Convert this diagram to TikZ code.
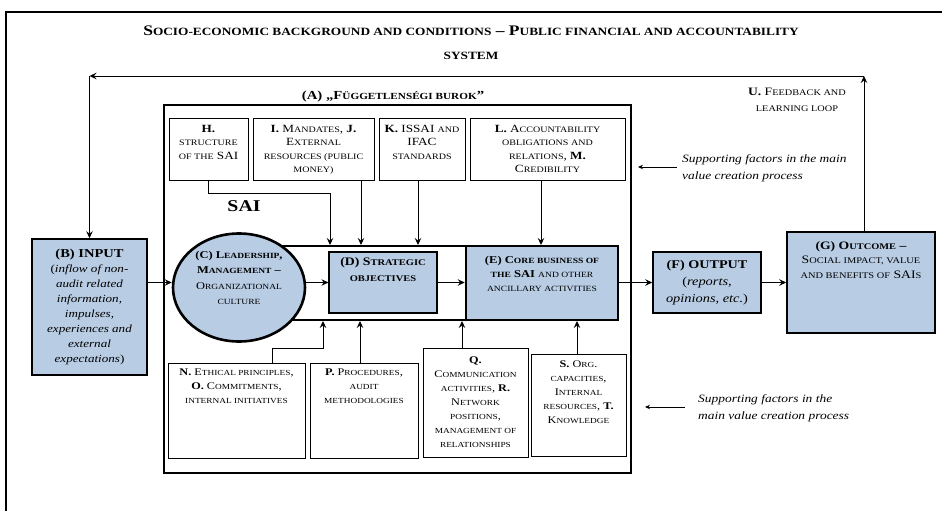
\documentclass[tikz,border=0pt]{standalone}
\usepackage{fontspec}
\setmainfont[FakeStretch=1.2]{Liberation Serif}
\usetikzlibrary{arrows.meta,shapes.geometric,calc}
\definecolor{boxblue}{RGB}{184,204,228}
\makeatletter
\newcommand\sct[1]{{\fontsize{\fpeval{0.76*\f@size}}{\f@baselineskip}\selectfont #1}}
\makeatother
\tikzset{
  arr/.style={line width=0.9pt,-{Stealth[length=7pt,width=6.5pt,inset=2.5pt]}},
  smallarr/.style={line width=0.9pt,-{Stealth[length=5pt,width=4.5pt]}},
  thinbox/.style={draw,line width=0.8pt,fill=white,inner sep=0pt},
  bluebox/.style={draw,line width=1.6pt,fill=boxblue,inner sep=0pt},
  txt/.style={inner sep=0pt,align=center},
  topfont/.style={font=\fontsize{11}{13.3}\selectfont},
  botfont/.style={font=\fontsize{10.2}{14}\selectfont},
  supfont/.style={font=\fontsize{11.2}{17}\selectfont\itshape},
}
\begin{document}
\begin{tikzpicture}[x=1pt,y=-1pt]
\useasboundingbox (0,0) rectangle (942,511);
% outer frame
\draw[line width=2pt] (6,515) -- (6,12) -- (946,12);
\node[txt,font=\fontsize{14.6}{24}\selectfont\bfseries] (title) at (471,43)
 {S\sct{OCIO-ECONOMIC BACKGROUND AND CONDITIONS} – P\sct{UBLIC FINANCIAL AND ACCOUNTABILITY}\\ \sct{SYSTEM}};
% frame A
\node[draw,line width=2.6pt,minimum width=467,minimum height=368,inner sep=0pt] (A) at (397.5,289) {};
\node[txt,font=\fontsize{12.3}{14}\selectfont\bfseries] (Alab) at (393,97) {(A) „F\sct{ÜGGETLENSÉGI BUROK}”};
\node[txt,font=\fontsize{16.5}{18}\selectfont\bfseries] (sai) at (244,206) {SAI};
% top boxes
\node[thinbox,minimum width=79,minimum height=62] (H) at (208.5,149) {};
\node[txt,topfont,anchor=north] (Ht) at (208.5,125) {\textbf{H.}\\ \sct{STRUCTURE}\\ \sct{OF THE} SAI};
\node[thinbox,minimum width=121,minimum height=62] (I) at (313.5,149) {};
\node[txt,topfont,anchor=north] (It) at (313.5,125) {\textbf{I.} M\sct{ANDATES}, \textbf{J.}\\ E\sct{XTERNAL}\\ \sct{RESOURCES (PUBLIC}\\ \sct{MONEY)}};
\node[thinbox,minimum width=86,minimum height=62] (K) at (422,149) {};
\node[txt,topfont,anchor=north] (Kt) at (422,125) {\textbf{K.} ISSAI \sct{AND}\\ IFAC\\ \sct{STANDARDS}};
\node[thinbox,minimum width=155,minimum height=62] (L) at (547.5,149) {};
\node[txt,topfont,anchor=north] (Lt) at (547.5,125) {\textbf{L.} A\sct{CCOUNTABILITY}\\ \sct{OBLIGATIONS AND}\\ \sct{RELATIONS}, \textbf{M.}\\ C\sct{REDIBILITY}};
% supporting factors (top)
\node[txt,supfont,align=left,anchor=west] (sup1) at (682,168) {Supporting factors in the main\\ value creation process};
\coordinate (sa1) at (677,167);
\coordinate (sb1) at (638,167);
\draw[smallarr] (sa1) -- (sb1);
% feedback text
\node[txt,font=\fontsize{11.3}{15.5}\selectfont] (U) at (797,100) {\textbf{U.} F\sct{EEDBACK AND}\\ \sct{LEARNING LOOP}};
% input
\node[bluebox,minimum width=115,minimum height=136,font=\fontsize{10.9}{15}\selectfont,align=center] (B) at (89.5,307)
 {{\fontsize{12.1}{15}\selectfont\bfseries (B) INPUT}\\ (\textit{inflow of non-}\\ \textit{audit related}\\ \textit{information,}\\ \textit{impulses,}\\ \textit{experiences and}\\ \textit{external}\\ \textit{expectations})};
% inner frame and core row
\node[draw,line width=2.6pt,minimum width=368,minimum height=74,inner sep=0pt] (inner) at (434,283) {};
\node[draw,line width=1.2pt,fill=boxblue,minimum width=108,minimum height=61,inner sep=0pt] (D) at (383,282.5) {};
\node[txt,font=\fontsize{11.5}{16.5}\selectfont\bfseries,anchor=north] (Dt) at (383,257) {(D) S\sct{TRATEGIC}\\ \sct{OBJECTIVES}};
\node[draw,line width=2.6pt,fill=boxblue,minimum width=152,minimum height=74,inner sep=0pt] (E) at (542,283) {};
\node[txt,font=\fontsize{10.5}{14}\selectfont,anchor=north] (Et) at (542,256) {\textbf{(E) C\sct{ORE BUSINESS OF}}\\ \textbf{\sct{THE} SAI} \sct{AND OTHER}\\ \sct{ANCILLARY ACTIVITIES}};
\node[ellipse,draw,line width=2.6pt,fill=boxblue,minimum width=132,minimum height=108,inner sep=0pt,align=center,font=\fontsize{10.4}{15.3}\selectfont] (C) at (239,287.5)
 {\textbf{(C) L\sct{EADERSHIP},}\\ \textbf{M\sct{ANAGEMENT} –}\\ O\sct{RGANIZATIONAL}\\ \sct{CULTURE}\\[4pt]};
\node[bluebox,minimum width=108,minimum height=61,align=center,font=\fontsize{12}{17}\selectfont] (F) at (707,282.5)
 {{\fontsize{11.8}{17}\selectfont\bfseries (F) OUTPUT}\\ (\textit{reports,}\\ \textit{opinions, etc.})};
\node[bluebox,minimum width=148,minimum height=101] (G) at (861,282.5) {};
\node[txt,font=\fontsize{11.4}{14.5}\selectfont,anchor=north] (Gt) at (861,241) {\textbf{(G) O\sct{UTCOME} –}\\ S\sct{OCIAL IMPACT, VALUE}\\ \sct{AND BENEFITS OF} SAI\sct{S}};
% bottom boxes
\node[thinbox,minimum width=137,minimum height=95] (N) at (236.5,410.5) {};
\node[txt,botfont,anchor=north] (Nt) at (236.5,369) {\textbf{N.} E\sct{THICAL PRINCIPLES},\\ \textbf{O.} C\sct{OMMITMENTS},\\ \sct{INTERNAL INITIATIVES}};
\node[thinbox,minimum width=108,minimum height=95] (P) at (364,410.5) {};
\node[txt,botfont,anchor=north] (Pt) at (364,369) {\textbf{P.} P\sct{ROCEDURES},\\ \sct{AUDIT}\\ \sct{METHODOLOGIES}};
\node[thinbox,minimum width=105,minimum height=109,botfont,align=center] (Q) at (475.5,402.5)
 {\textbf{Q.}\\ C\sct{OMMUNICATION}\\ \sct{ACTIVITIES}, \textbf{R.}\\ N\sct{ETWORK}\\ \sct{POSITIONS},\\ \sct{MANAGEMENT OF}\\ \sct{RELATIONSHIPS}};
\node[thinbox,minimum width=95,minimum height=102] (S) at (578.5,405) {};
\node[txt,botfont,anchor=north] (St) at (578.5,361) {\textbf{S.} O\sct{RG}.\\ \sct{CAPACITIES},\\ I\sct{NTERNAL}\\ \sct{RESOURCES}, \textbf{T.}\\ K\sct{NOWLEDGE}};
% supporting factors (bottom)
\node[txt,supfont,align=left,anchor=west] (sup2) at (698,408) {Supporting factors in the\\ main value creation process};
\coordinate (sa2) at (685,407);
\coordinate (sb2) at (645,407);
\draw[smallarr] (sa2) -- (sb2);
% arrow targets on the inner frame
\coordinate (tH) at (330,245);
\coordinate (tI) at (361,245);
\coordinate (tK) at (418,245);
\coordinate (tL) at (541,245);
\coordinate (tN) at (323,321);
\coordinate (tP) at (360,321);
\coordinate (tQ) at (462,321);
\coordinate (tS) at (577,321);
\coordinate (hb) at (208.5,193);
\coordinate (nb) at (272,348);
% top connectors
\draw[arr] (H.south) -- (hb) -| (tH);
\draw[arr] (I.south -| tI) -- (tI);
\draw[arr] (K.south -| tK) -- (tK);
\draw[arr] (L.south -| tL) -- (tL);
% bottom connectors
\draw[arr] (N.north -| nb) -- (nb) -| (tN);
\draw[arr] (P.north -| tP) -- (tP);
\draw[arr] (Q.north -| tQ) -- (tQ);
\draw[arr] (S.north -| tS) -- (tS);
% main flow
\draw[arr] (B.east |- D.west) -- (C.west |- D.west);
\draw[arr] (C.east |- D.west) -- (D.west);
\draw[arr] (D.east) -- (E.west |- D.east);
\draw[arr] (E.east |- F.west) -- (F.west);
\draw[arr] (F.east) -- (G.west |- F.east);
% feedback loop
\coordinate (fbR) at (864,76);
\coordinate (fbL) at (89.5,76);
\draw[arr] (G.north -| fbR) -- (fbR);
\draw[arr] (fbR) -- (fbL);
\draw[arr] (fbL) -- (B.north);
\end{tikzpicture}
\end{document}
